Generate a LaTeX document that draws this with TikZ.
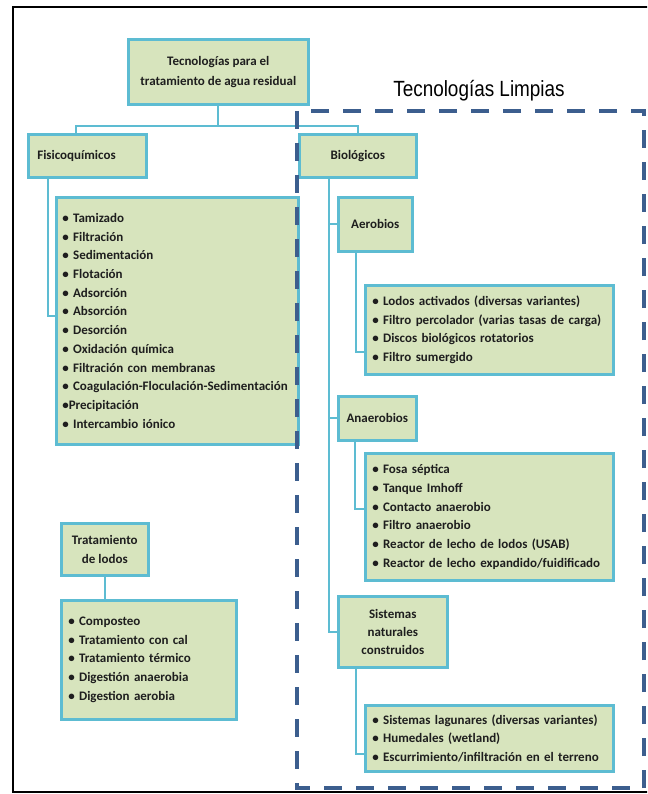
\documentclass[tikz,border=0pt]{standalone}
\usepackage{fontspec}
\setmainfont{Carlito}
\newfontfamily\titlefont{Liberation Sans}
\usetikzlibrary{calc}
\definecolor{boxfill}{HTML}{D7E4BD}
\definecolor{boxline}{HTML}{5DBCD2}
\definecolor{dashblue}{HTML}{3C5E8E}
\definecolor{txt}{HTML}{1E1E1E}
\begin{document}
\begin{tikzpicture}[x=1pt,y=-1pt]
\tikzset{
  gbox/.style={draw=boxline, fill=boxfill, line width=2.6pt, inner sep=0pt,
    anchor=north west, text=txt, align=center,
    font=\bfseries\fontsize{13}{19.5}\selectfont},
  lbox/.style={gbox, align=left, inner xsep=7pt,
    font=\bfseries\fontsize{13}{18.7}\selectfont},
  conn/.style={draw=boxline, line width=2pt},
  cleanbox/.style={draw=dashblue, line width=4pt, dash pattern=on 18pt off 14pt},
}
\useasboundingbox (0,0) rectangle (647,794);
\clip (0,0) rectangle (647,794);
\fill[white] (0,0) rectangle (647,794);
\draw[black, line width=1.4pt] (13,7) rectangle (670,792);

% header nodes
\node[gbox, minimum width=180pt, minimum height=65pt] (top) at (127,38)
  {Tecnologías para el\\tratamiento de agua residual};
\node[gbox, minimum width=118pt, minimum height=43pt, text width=100pt, align=left, inner xsep=9pt] (fis) at (27,133) {Fisicoquímicos};
\node[gbox, minimum width=117pt, minimum height=43pt] (bio) at (298,133) {Biológicos};

\node[lbox, minimum width=242pt, minimum height=247pt, text width=230pt, inner xsep=6pt] (fisl) at (55,196)
  {• Tamizado\\• Filtración\\• Sedimentación\\• Flotación\\• Adsorción\\• Absorción\\• Desorción\\• Oxidación química\\• Filtración con membranas\\• Coagulación-Floculación-Sedimentación\\•Precipitación\\• Intercambio iónico};

\node[gbox, minimum width=74pt, minimum height=54pt] (aer) at (337,196) {Aerobios};
\node[lbox, minimum width=248pt, minimum height=89pt, text width=234pt] (aerl) at (364,284)
  {• Lodos activados (diversas variantes)\\• Filtro percolador (varias tasas de carga)\\• Discos biológicos rotatorios\\• Filtro sumergido};

\node[gbox, minimum width=78pt, minimum height=44pt] (ana) at (337,395) {Anaerobios};
\node[lbox, minimum width=248pt, minimum height=127pt, text width=234pt] (anal) at (364,452)
  {• Fosa séptica\\• Tanque Imhoff\\• Contacto anaerobio\\• Filtro anaerobio\\• Reactor de lecho de lodos (USAB)\\• Reactor de lecho expandido/fuidificado};

\node[gbox, minimum width=109pt, minimum height=71pt, font=\bfseries\fontsize{13}{18}\selectfont] (sis) at (337,595) {Sistemas\\naturales\\construidos};
\node[lbox, minimum width=248pt, minimum height=66pt, text width=234pt] (sisl) at (364,704)
  {• Sistemas lagunares (diversas variantes)\\• Humedales (wetland)\\• Escurrimiento/infiltración en el terreno};

\node[gbox, minimum width=87pt, minimum height=52pt] (tra) at (60,522) {Tratamiento\\de lodos};
\node[lbox, minimum width=175pt, minimum height=119pt, text width=161pt, inner xsep=6pt] (tral) at (60,599)
  {• Composteo\\• Tratamiento con cal\\• Tratamiento térmico\\• Digestión anaerobia\\• Digestion aerobia};

% connectors
\coordinate (j1) at ($(top.south)+(0,20)$);
\coordinate (fisTop) at ([xshift=49pt]fis.north west);
\draw[conn] (top.south) -- (j1);
\draw[conn] (fisTop) |- (j1) -| (bio.north);
\draw[conn] ([xshift=21pt]fis.south west) |- ([yshift=4.5pt]fisl.west);
\coordinate (bioStem) at ([xshift=31pt]bio.south west);
\draw[conn] (bioStem) |- (aer.west);
\draw[conn] (bioStem) |- (ana.west);
\draw[conn] (bioStem) |- (sis.west);
\draw[conn] ([xshift=19pt]aer.south west) |- ([yshift=-22pt]aerl.west);
\draw[conn] ([xshift=18pt]ana.south west) |- ([yshift=7.5pt]anal.west);
\draw[conn] ([xshift=19pt]sis.south west) |- ([yshift=-16pt]sisl.west);
\draw[conn] (tra.south) -- (tral.north -| tra.south);

% clean technologies frame
\node[font=\titlefont\fontsize{22}{24}\selectfont, inner sep=0pt, xscale=0.86] (ttl) at (479,91) {Tecnologías Limpias};
\draw[cleanbox] (297,111) rectangle (644,788);
\end{tikzpicture}
\end{document}
